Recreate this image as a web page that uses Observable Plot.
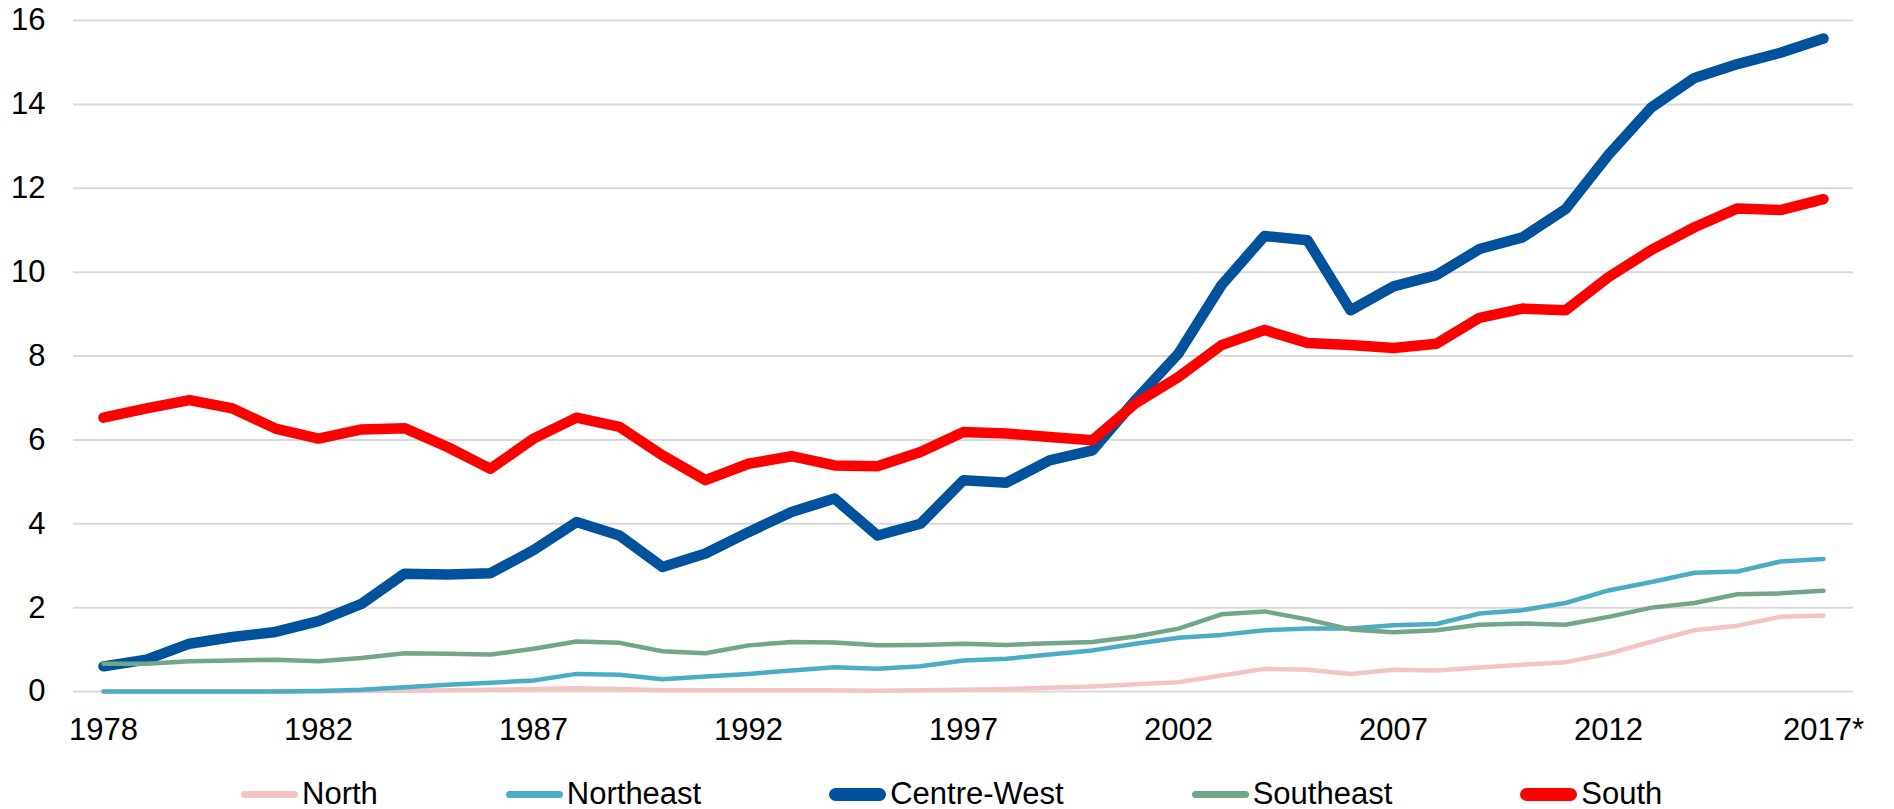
<!DOCTYPE html>
<html>
<head>
<meta charset="utf-8">
<script src="https://cdn.jsdelivr.net/npm/d3@7"></script>
<script src="https://cdn.jsdelivr.net/npm/@observablehq/plot@0.6"></script>
<style>
  html, body { margin: 0; padding: 0; background: #fff; }
  body { font-family: "Liberation Sans", Arial, sans-serif; width: 1894px; height: 809px; overflow: hidden; }
  #legend { display: flex; align-items: center; height: 40px; margin-top: 14px; padding-left: 241px; gap: 128px; font-size: 31px; color: #000; }
  .item { display: flex; align-items: center; white-space: nowrap; }
  .sw { width: 57px; margin-right: 4px; }
</style>
</head>
<body>
<div id="chart"></div>
<div id="legend"></div>
<script>
// Periods (41 observations; the axis labels every fifth one)
const periods = ["1978","1979","1980","1980/81","1981","1982","1983","1984","1985","1986","1987",
  "1988","1989","1990","1991","1992","1993","1994","1995","1996","1997","1998","1999","2000",
  "2001","2002","2003","2004","2005","2006","2007","2008","2009","2010","2011","2012","2013",
  "2014","2015","2016","2017*"];

const north = [0,0,0,0,0,0,0.01,0.02,0.03,0.04,0.06,0.08,0.06,0.03,0.03,0.03,0.03,0.03,0.02,0.03,
  0.04,0.06,0.09,0.12,0.17,0.22,0.38,0.54,0.52,0.42,0.52,0.50,0.57,0.64,0.70,0.90,1.19,1.46,1.57,1.78,1.81];

const northeast = [0,0,0,0,0,0.01,0.04,0.10,0.16,0.21,0.26,0.42,0.40,0.29,0.36,0.42,0.50,0.58,0.54,0.60,
  0.74,0.78,0.88,0.98,1.14,1.28,1.35,1.46,1.50,1.50,1.58,1.61,1.86,1.94,2.11,2.41,2.61,2.83,2.86,3.10,3.16];

const centreWest = [0.60,0.76,1.14,1.30,1.42,1.68,2.09,2.81,2.79,2.82,3.37,4.04,3.72,2.97,3.29,3.80,4.28,4.60,3.72,4.00,
  5.04,4.98,5.51,5.75,6.95,8.06,9.69,10.86,10.76,9.09,9.66,9.93,10.55,10.83,11.50,12.80,13.93,14.63,14.96,15.23,15.57];

const southeast = [0.66,0.66,0.72,0.74,0.76,0.72,0.80,0.91,0.90,0.88,1.02,1.19,1.16,0.96,0.91,1.10,1.18,1.17,1.10,1.11,
  1.14,1.11,1.15,1.18,1.31,1.50,1.84,1.91,1.72,1.48,1.41,1.46,1.59,1.62,1.59,1.78,2.00,2.11,2.32,2.34,2.40];

const south = [6.53,6.75,6.95,6.75,6.27,6.03,6.25,6.28,5.83,5.31,6.03,6.53,6.31,5.63,5.04,5.43,5.61,5.39,5.37,5.71,
  6.19,6.15,6.07,5.99,6.87,7.50,8.26,8.62,8.31,8.26,8.19,8.29,8.91,9.13,9.09,9.88,10.53,11.07,11.52,11.48,11.74];

const seriesNames = ["North","Northeast","Centre-West","Southeast","South"];
const seriesValues = [north, northeast, centreWest, southeast, south];
const seriesColors = ["#F4C3C3","#4BACC6","#00529C","#72A688","#FF0000"];
const seriesWidths = [4.5, 4.5, 10.5, 4.5, 10.5];
const legendHeights = [7, 7, 13, 7, 13];

const yTicks = [0,2,4,6,8,10,12,14,16];
const xTickLabels = periods.filter((d, i) => i % 5 === 0);

const rows = seriesNames.flatMap((s, k) =>
  seriesValues[k].map((v, i) => ({series: s, period: periods[i], value: v})));

const font = "'Liberation Sans', Arial, sans-serif";

const chart = Plot.plot({
  width: 1894,
  height: 760,
  marginLeft: 73,
  marginRight: 41,
  marginTop: 20,
  marginBottom: 69,
  style: {fontFamily: font, background: "#fff", color: "#000", overflow: "visible"},
  x: {type: "point", domain: periods, padding: 0.5, axis: null},
  y: {domain: [0, 16], axis: null},
  marks: [
    Plot.ruleY(yTicks, {stroke: "#D9D9D9", strokeWidth: 2}),
    Plot.axisX(xTickLabels, {tickSize: 0, tickPadding: 26, fontSize: 31, fill: "#000", label: null}),
    Plot.axisY(yTicks, {tickSize: 0, tickPadding: 28, fontSize: 31, fill: "#000", label: null}),
    ...seriesNames.map((s, k) => Plot.line(rows.filter(r => r.series === s), {
      x: "period", y: "value", stroke: seriesColors[k], strokeWidth: seriesWidths[k],
      strokeLinecap: "round", strokeLinejoin: "round"
    }))
  ]
});
document.getElementById("chart").appendChild(chart);

const legend = document.getElementById("legend");
seriesNames.forEach((s, k) => {
  const item = document.createElement("div");
  item.className = "item";
  const sw = document.createElement("div");
  sw.className = "sw";
  sw.style.height = legendHeights[k] + "px";
  sw.style.borderRadius = legendHeights[k] / 2 + "px";
  sw.style.background = seriesColors[k];
  const label = document.createElement("span");
  label.textContent = s;
  item.appendChild(sw);
  item.appendChild(label);
  legend.appendChild(item);
});
</script>
</body>
</html>
